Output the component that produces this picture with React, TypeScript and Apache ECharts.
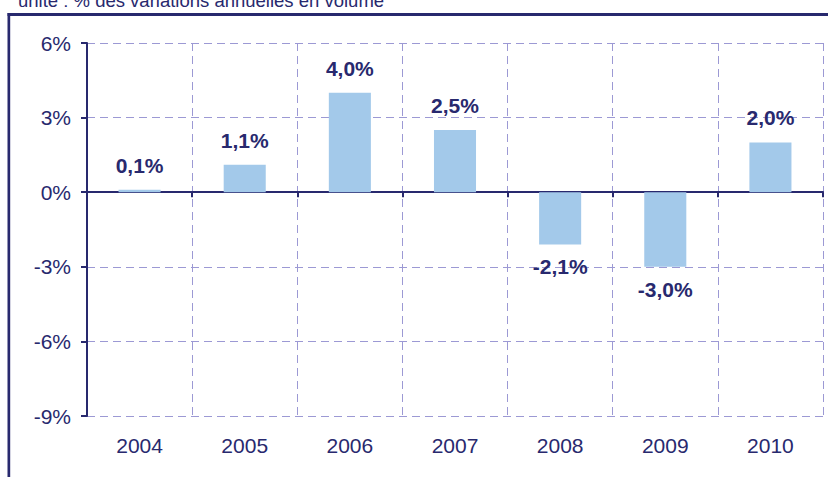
import React, { useEffect, useRef } from "react";
import * as echarts from "echarts";

const categories = ["2004", "2005", "2006", "2007", "2008", "2009", "2010"];
const values = [0.1, 1.1, 4.0, 2.5, -2.1, -3.0, 2.0];
const yTicks = [-9, -6, -3, 0, 3, 6];
const subtitle = "unité : % des variations annuelles en volume";

const NAVY = "#28296e";
const GRIDC = "#9c99d4";
const BAR = "#a3c9ea";
const FONT = "'Liberation Sans', Arial, sans-serif";

export default function App() {
  const ref = useRef<HTMLDivElement>(null);
  useEffect(() => {
    if (!ref.current) return;
    const chart = echarts.init(ref.current, null, { renderer: "svg" });
    const fmt = (v: number) => v.toFixed(1).replace(".", ",") + "%";
    chart.setOption({
      animation: false,
      textStyle: { fontFamily: FONT },
      graphic: [
        { type: "rect", shape: { x: 7.5, y: 13, width: 830, height: 3 }, style: { fill: NAVY } },
        { type: "rect", shape: { x: 7.5, y: 13, width: 2.7, height: 480 }, style: { fill: NAVY } },
        {
          type: "text",
          x: 18,
          y: 0.3,
          style: { text: subtitle, fill: NAVY, font: `18.5px ${FONT}`, verticalAlign: "middle" },
        },
      ],
      grid: { left: 87, top: 43, right: 5, bottom: 61, containLabel: false },
      xAxis: [
        {
          type: "category",
          data: categories,
          position: "bottom",
          axisLine: { show: false, onZero: false },
          axisTick: { show: false },
          axisLabel: { color: NAVY, fontSize: 21, margin: 19, fontFamily: FONT },
          splitLine: { show: true, interval: 0, lineStyle: { color: GRIDC, type: [8, 5], width: 1 } },
        },
        {
          type: "category",
          data: categories,
          position: "bottom",
          axisLine: { show: true, onZero: true, lineStyle: { color: NAVY, width: 2 } },
          axisTick: { show: true, length: 5, interval: 0, lineStyle: { color: NAVY, width: 2 } },
          axisLabel: { show: false },
          splitLine: { show: false },
        },
      ],
      yAxis: {
        type: "value",
        min: yTicks[0],
        max: yTicks[yTicks.length - 1],
        interval: 3,
        axisLine: { show: true, lineStyle: { color: NAVY, width: 2 } },
        axisTick: { show: true, length: 6, lineStyle: { color: NAVY, width: 2 } },
        axisLabel: { color: NAVY, fontSize: 21, margin: 16, fontFamily: FONT, formatter: (v: number) => v + "%" },
        splitLine: { show: true, lineStyle: { color: GRIDC, type: [8, 5], width: 1 } },
      },
      series: [
        {
          type: "bar",
          xAxisIndex: 0,
          barWidth: "40%",
          itemStyle: { color: BAR },
          data: values.map((v) => ({
            value: v,
            label: { position: v < 0 ? "bottom" : "top", distance: v < 0 ? 12 : 14 },
          })),
          label: {
            show: true,
            color: NAVY,
            fontWeight: "bold",
            fontSize: 21,
            fontFamily: FONT,
            formatter: (p: any) => fmt(p.value),
          },
          z: 1,
        },
      ],
    });
    return () => chart.dispose();
  }, []);
  return <div ref={ref} style={{ position: "fixed", left: 0, top: 0, width: 828, height: 477, background: "#fff" }} />;
}
